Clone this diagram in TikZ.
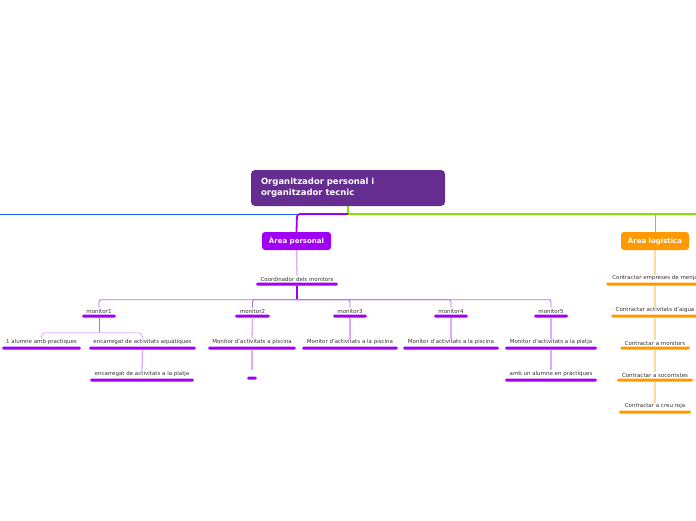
\documentclass[tikz,border=0pt]{standalone}
\usepackage{fontspec}
\setmainfont{DejaVu Sans}
\definecolor{titlec}{HTML}{662D91}
\definecolor{pp}{HTML}{A000F5}
\definecolor{ppl}{HTML}{DDAAFF}
\definecolor{ppm}{HTML}{B070EE}
\definecolor{orc}{HTML}{FF9900}
\definecolor{orl}{HTML}{FFD9A0}
\definecolor{bluel}{HTML}{1A5CF0}
\definecolor{greenl}{HTML}{88E000}
\definecolor{txt}{HTML}{333333}
\begin{document}
\begin{tikzpicture}[x=1pt,y=-1pt,
  titlebox/.style={fill=titlec, rounded corners=4pt, text=white, font=\fontsize{8.5}{11}\selectfont\bfseries,
     minimum width=194pt, minimum height=36pt, text width=174pt, align=left, inner xsep=10pt},
  areabox/.style={fill=#1, rounded corners=3pt, text=white, font=\fontsize{7}{8}\selectfont\bfseries,
     minimum height=18pt, inner xsep=2pt, inner ysep=0pt},
  bar/.style={fill=#1, minimum height=3pt, inner sep=0pt, rounded corners=1.5pt,
     label distance=2.6pt},
  lbl/.style={font=\fontsize{5.5}{6.5}\selectfont, text=txt, inner sep=1pt},
  conn/.style={draw=#1, line width=1.3pt, rounded corners=3pt},
  every label/.style={lbl}
]
\useasboundingbox (0,0) rectangle (696,520);

% title and areas
\node[titlebox] (title) at (348,188) {Organitzador personal i\\organitzador tecnic};
\coordinate (j) at (348,214);
\coordinate (wend) at (0,214);
\coordinate (eend) at (696,214);
\coordinate (jp) at (297,214);
\coordinate (jo) at (655,214);
\node[areabox=pp, minimum width=69pt] (pers) at (296.5,241) {Àrea personal};
\node[areabox=orc, minimum width=68pt] (log) at (655,241) {Àrea logística};

\draw[bluel, line width=0.9pt] (j) -- (wend);
\draw[greenl, line width=1.2pt] (title.south) -- (j) -- (eend);
\draw[conn=pp, line width=1.8pt] (j) -- (jp) -- (pers.north);
\draw[conn=orc, line width=0.9pt] (jo) -- (log.north);

% personal
\node[bar=pp, minimum width=82pt, label={[name=coordl]above:Coordinador dels monitors}] (coord) at (297,284) {};
\node[bar=pp, minimum width=34pt, label={[name=m1l]above:monitor1}] (m1) at (99,316) {};
\node[bar=pp, minimum width=35pt, label={[name=m2l]above:monitor2}] (m2) at (252.5,316) {};
\node[bar=pp, minimum width=34pt, label={[name=m3l]above:monitor3}] (m3) at (350,316) {};
\node[bar=pp, minimum width=34pt, label={[name=m4l]above:monitor4}] (m4) at (451,316) {};
\node[bar=pp, minimum width=34pt, label={[name=m5l]above:monitor5}] (m5) at (551,316) {};

\node[bar=pp, minimum width=79pt, label={[name=a1l]above:1 alumne amb practiques}] (a1) at (41.5,348) {};
\node[bar=pp, minimum width=107pt, label={[name=a2l]above:encarregat de activitats aquàtiques}] (a2) at (142.5,348) {};
\node[bar=pp, minimum width=104pt, label={[name=a3l]above:encarregat de activitats a la platja}] (a3) at (142,380) {};
\node[bar=pp, minimum width=88pt, label={[name=b1l]above:Monitor d'activitats a piscina}] (b1) at (252,348) {};
\node[bar=pp, minimum width=10pt, label={[name=b2l]above:\phantom{M}}] (b2) at (252,378) {};
\node[bar=pp, minimum width=96pt, label={[name=c1l]above:Monitor d'activitats a la piscina}] (c1) at (350,348) {};
\node[bar=pp, minimum width=96pt, label={[name=d1l]above:Monitor d'activitats a la piscina}] (d1) at (451,348) {};
\node[bar=pp, minimum width=92pt, label={[name=e1l]above:Monitor d'activitats a la platja}] (e1) at (551,348) {};
\node[bar=pp, minimum width=92pt, label={[name=e2l]above:amb un alumne en pràctiques}] (e2) at (551,380) {};

\draw[conn=ppl] (pers.south) -- (coordl.north);
\draw[conn=pp, line width=1.3pt] (coord.south) -- ++(0,14) coordinate (cj);
\foreach \m in {m1,m2,m3,m4,m5}
  \draw[draw=ppm, line width=0.9pt, rounded corners=2pt] (cj) -| (\m l.north);
\draw[draw=ppm, line width=1pt] (m1.south) -- ++(0,15) coordinate (m1j);
\draw[draw=ppl, line width=0.9pt, rounded corners=4pt] (m1j) -| (a1l.north);
\draw[draw=ppl, line width=0.9pt, rounded corners=4pt] (m1j) -| (a2l.north);
\draw[conn=ppl] (a2.south) -- (a3l.north);
\draw[conn=ppl] (m2.south) -- (b1l.north);
\draw[conn=ppl] (b1.south) -- (b2l.north);
\draw[conn=ppl] (m3.south) -- (c1l.north);
\draw[conn=ppl] (m4.south) -- (d1l.north);
\draw[conn=ppl] (m5.south) -- (e1l.north);
\draw[conn=ppl] (e1.south) -- (e2l.north);

% logistics
\node[bar=orc, minimum width=98pt, label={[name=l1l]above:Contractar empreses de menja}] (l1) at (655,284) {};
\node[bar=orc, minimum width=88pt, label={[name=l2l]above:Contractar activitats d'aigua}] (l2) at (655,316) {};
\node[bar=orc, minimum width=70pt, label={[name=l3l]above:Contractar a monitors}] (l3) at (655,348) {};
\node[bar=orc, minimum width=76pt, label={[name=l4l]above:Contractar a socorristes}] (l4) at (655,380) {};
\node[bar=orc, minimum width=72pt, label={[name=l5l]above:Contractar a creu roja}] (l5) at (655,412) {};
\draw[conn=orl] (log.south) -- (l1l.north);
\draw[conn=orl] (l1.south) -- (l2l.north);
\draw[conn=orl] (l2.south) -- (l3l.north);
\draw[conn=orl] (l3.south) -- (l4l.north);
\draw[conn=orl] (l4.south) -- (l5l.north);
\end{tikzpicture}
\end{document}
